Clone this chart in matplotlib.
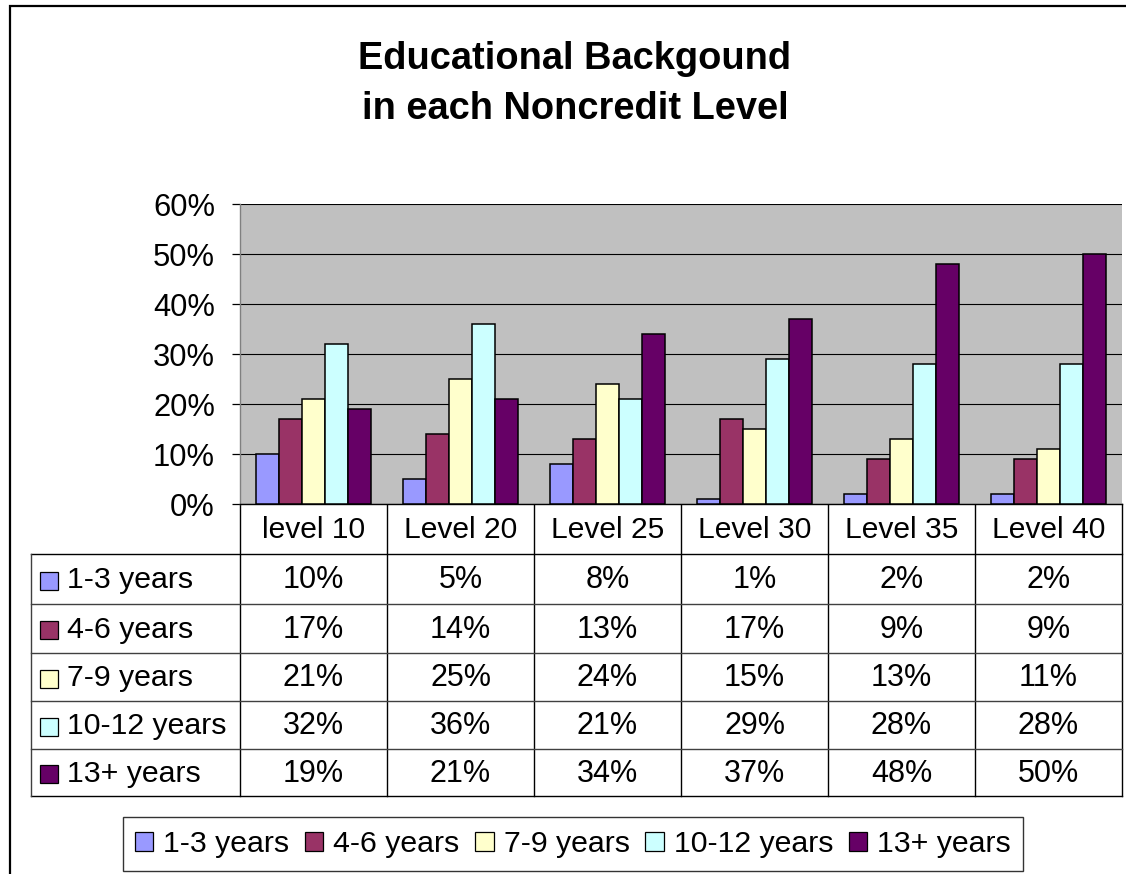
import matplotlib
matplotlib.use("Agg")
import matplotlib.pyplot as plt
from matplotlib.patches import Rectangle
import numpy as np

plt.rcParams['font.family'] = ['Liberation Sans', 'DejaVu Sans']

levels = ["level 10", "Level 20", "Level 25", "Level 30", "Level 35", "Level 40"]
series_names = ["1-3 years", "4-6 years", "7-9 years", "10-12 years", "13+ years"]
s_1_3 = [10, 5, 8, 1, 2, 2]
s_4_6 = [17, 14, 13, 17, 9, 9]
s_7_9 = [21, 25, 24, 15, 13, 11]
s_10_12 = [32, 36, 21, 29, 28, 28]
s_13p = [19, 21, 34, 37, 48, 50]
y_ticks = [0, 10, 20, 30, 40, 50, 60]

series_values = [s_1_3, s_4_6, s_7_9, s_10_12, s_13p]
colors = ["#9999FF", "#993366", "#FFFFCC", "#CCFFFF", "#660066"]

W, H = 1126, 874
DPI = 100
fig = plt.figure(figsize=(W / DPI, H / DPI), dpi=DPI)
fig.patch.set_facecolor("white")

# pixel-coordinate overlay axes
ov = fig.add_axes([0, 0, 1, 1])
ov.set_xlim(0, W)
ov.set_ylim(H, 0)
ov.axis("off")

# outer chart border (partially visible)
ov.plot([9.5, 9.5, W], [H, 5.5, 5.5], color="black", lw=1.6, solid_joinstyle="miter")

# title
ov.text(575, 59, "Educational Backgound", ha="center", va="center",
        fontsize=27.4, fontweight="bold")
ov.text(575, 109, "in each Noncredit Level", ha="center", va="center",
        fontsize=27.4, fontweight="bold")

# main plot axes
PL, PR, PT, PB = 240, 1122, 204, 504
ax = fig.add_axes([PL / W, 1 - PB / H, (PR - PL) / W, (PB - PT) / H])
ax.set_facecolor("#C0C0C0")
n_cat = len(levels)
x = np.arange(n_cat)
bw = 0.156
for i, (vals, c) in enumerate(zip(series_values, colors)):
    ax.bar(x + (i - 2) * bw, vals, width=bw, color=c, edgecolor="black",
           linewidth=1.1, zorder=3)
ax.set_xlim(-0.5, n_cat - 0.5)
ax.set_ylim(0, 60)
ax.set_yticks(y_ticks)
ax.set_yticklabels([f"{v}%" for v in y_ticks], fontsize=22.2)
ax.yaxis.grid(True, color="black", linewidth=0.8, zorder=1)
ax.set_axisbelow(True)
ax.set_xticks([])
ax.tick_params(axis="y", direction="out", length=6, width=0.9, color="black", pad=12)
for side in ["top", "right"]:
    ax.spines[side].set_visible(False)
ax.spines["left"].set_color("#808080")
ax.spines["left"].set_linewidth(1.0)
ax.spines["bottom"].set_color("black")
ax.spines["bottom"].set_linewidth(1.0)

# data table
TL = 31
col_w = (PR - PL) / n_cat
col_edges = [PL + k * col_w for k in range(n_cat + 1)]
row_edges = [554, 604, 653, 701, 749, 796]
fs_tab = 22

# header row
for xe in col_edges:
    ov.plot([xe, xe], [PB, row_edges[-1]], color="black", lw=1.0)
for k, lab in enumerate(levels):
    ov.text((col_edges[k] + col_edges[k + 1]) / 2, 530, lab, ha="center",
            va="center", fontsize=21.6)
# body
ov.plot([TL, PR], [row_edges[0], row_edges[0]], color="black", lw=1.0)
for r in row_edges[1:-1]:
    ov.plot([TL, PR], [r, r], color="#404040", lw=1.0)
ov.plot([TL, PR], [row_edges[-1], row_edges[-1]], color="black", lw=1.0)
ov.plot([TL, TL], [row_edges[0], row_edges[-1]], color="#404040", lw=1.0)

for j, (name, vals, c) in enumerate(zip(series_names, series_values, colors)):
    yc = (row_edges[j] + row_edges[j + 1]) / 2 + 1.5
    ov.add_patch(Rectangle((40, yc - 9), 18, 18, facecolor=c, edgecolor="black",
                           lw=0.9))
    ov.text(67, yc, name, ha="left", va="center", fontsize=21.8)
    for k, v in enumerate(vals):
        ov.text((col_edges[k] + col_edges[k + 1]) / 2, yc, f"{v}%",
                ha="center", va="center", fontsize=fs_tab)

# legend
handles = [Rectangle((0, 0), 1, 1, facecolor=c, edgecolor="black", lw=0.9)
           for c in colors]
leg = fig.legend(handles, series_names, loc="center",
                 bbox_to_anchor=(573 / W, 1 - 844 / H), ncol=5,
                 fontsize=21.8, frameon=True, fancybox=False,
                 handlelength=0.6, handleheight=0.6, handletextpad=0.33,
                 columnspacing=0.52, borderpad=0.42)
leg.get_frame().set_edgecolor("black")
leg.get_frame().set_linewidth(1.0)

fig.savefig("out.png", dpi=DPI, facecolor="white")
